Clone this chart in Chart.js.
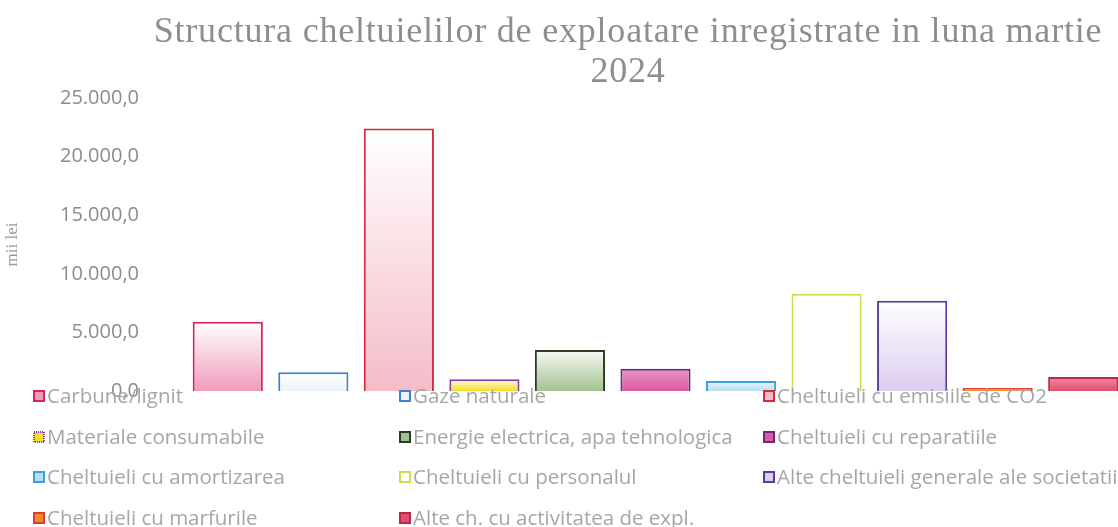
<!DOCTYPE html>
<html lang="ro">
<head>
  <meta charset="UTF-8">
  <title>Structura cheltuielilor de exploatare</title>
  <script src="https://cdn.jsdelivr.net/npm/chart.js"></script>
  <style>
    html, body {
      margin: 0;
      padding: 0;
      background: #ffffff;
      overflow: hidden;
    }
    #chartBox {
      position: relative;
      width: 1126px;
      height: 527px;
    }
  </style>
</head>
<body>
  <div id="chartBox">
    <canvas id="costChart"></canvas>
  </div>

  <script>
    // chart data (mii lei)
    const titleLines = ['Structura cheltuielilor de exploatare inregistrate in luna martie', '2024'];
    const axisTitle = 'mii lei';
    const groupLabels = [''];
    const seriesNames = [
      'Carbune/lignit',
      'Gaze naturale',
      'Cheltuieli cu emisiile de CO2',
      'Materiale consumabile',
      'Energie electrica, apa tehnologica',
      'Cheltuieli cu reparatiile',
      'Cheltuieli cu amortizarea',
      'Cheltuieli cu personalul',
      'Alte cheltuieli generale ale societatii',
      'Cheltuieli cu marfurile',
      'Alte ch. cu activitatea de expl.'
    ];
    const seriesValues = [5900, 1600, 22400, 1000, 3500, 1900, 850, 8300, 7700, 250, 1200];
    const yTicks = [0, 5000, 10000, 15000, 20000, 25000];

    // colours (gradient top, gradient bottom, outline)
    const topColors    = ['#ffffff', '#ffffff', '#ffffff', '#fffbe6', '#f8faf5', '#ec94c6', '#eaf6fd', '#ffffff', '#ffffff', '#f4a43a', '#f28aa2'];
    const bottomColors = ['#f09cbc', '#edf3fa', '#f5bcc8', '#f0de2a', '#a3c291', '#d95aa2', '#b9def4', '#ffffff', '#dccdef', '#ee8a2a', '#e0506e'];
    const borderColors = ['#d6245e', '#3f7fce', '#d42a3c', '#7b3fa0', '#2e3b23', '#6b2a7e', '#3aa0e0', '#cddb4e', '#5b3a9e', '#e03a3a', '#b8284a'];

    function fmtRo(v) {
      // 25000 -> "25.000,0"
      let s = Math.round(v).toString().replace(/\B(?=(\d{3})+(?!\d))/g, '.');
      return s + ',0';
    }

    function barGradient(i) {
      return function(c) {
        const chart = c.chart;
        if (!chart.chartArea || !chart.scales.y) return bottomColors[i];
        const y = chart.scales.y;
        const top = y.getPixelForValue(seriesValues[i]);
        const bot = y.getPixelForValue(0);
        if (bot - top < 1) return bottomColors[i];
        const g = chart.ctx.createLinearGradient(0, top, 0, bot);
        g.addColorStop(0, topColors[i]);
        g.addColorStop(1, bottomColors[i]);
        return g;
      };
    }

    // title and legend sit over the plot in the original, so they are drawn by hand
    const overlayPlugin = {
      id: 'overlay',
      afterDraw(chart) {
        const ctx = chart.ctx;
        ctx.save();

        ctx.fillStyle = '#8e8e8e';
        ctx.font = '36px "Liberation Serif", "Times New Roman", serif';
        ctx.letterSpacing = '0.8px';
        ctx.textAlign = 'center';
        ctx.textBaseline = 'middle';
        ctx.fillText(titleLines[0], 628, 33);
        ctx.fillText(titleLines[1], 628, 73);
        ctx.letterSpacing = '0px';

        const colX = [34, 400, 764];
        const rowY = [396, 437, 477, 518];
        ctx.font = '20.5px "Open Sans", sans-serif';
        ctx.textAlign = 'left';
        for (let i = 0; i < seriesNames.length; i++) {
          const x = colX[i % 3];
          const y = rowY[Math.floor(i / 3)];
          ctx.fillStyle = bottomColors[i];
          ctx.fillRect(x, y - 5, 10, 10);
          ctx.strokeStyle = borderColors[i];
          ctx.lineWidth = 2;
          ctx.setLineDash(i === 3 ? [1, 1] : []);
          ctx.strokeRect(x, y - 5, 10, 10);
          ctx.setLineDash([]);
          ctx.fillStyle = '#a6a6a6';
          ctx.fillText(seriesNames[i], x + 13, y + 1);
        }
        ctx.restore();
      }
    };

    const datasets = seriesNames.map((name, i) => ({
      label: name,
      data: [seriesValues[i]],
      backgroundColor: barGradient(i),
      borderColor: borderColors[i],
      borderWidth: 2
    }));

    new Chart(document.getElementById('costChart'), {
      type: 'bar',
      data: { labels: groupLabels, datasets: datasets },
      options: {
        responsive: true,
        maintainAspectRatio: false,
        animation: false,
        layout: { padding: { top: 98, bottom: 136, right: 0, left: 0 } },
        datasets: { bar: { categoryPercentage: 1.0, barPercentage: 0.82 } },
        plugins: {
          legend: { display: false },
          title: { display: false },
          tooltip: { enabled: false }
        },
        scales: {
          x: { display: false },
          y: {
            min: 0,
            max: 25000,
            afterBuildTicks: (s) => { s.ticks = yTicks.map(v => ({ value: v })); },
            afterFit: (s) => { s.width = 185; },
            grid: { display: false, drawTicks: false },
            border: { display: false },
            ticks: {
              padding: 46,
              color: '#8c8c8c',
              font: { family: '"Open Sans", sans-serif', size: 20 },
              callback: (v) => fmtRo(v)
            },
            title: {
              display: true,
              text: axisTitle,
              color: '#9a9a9a',
              font: { family: '"Liberation Serif", serif', size: 17 },
              padding: { top: 2, bottom: 0 }
            }
          }
        }
      },
      plugins: [overlayPlugin]
    });
  </script>
</body>
</html>
